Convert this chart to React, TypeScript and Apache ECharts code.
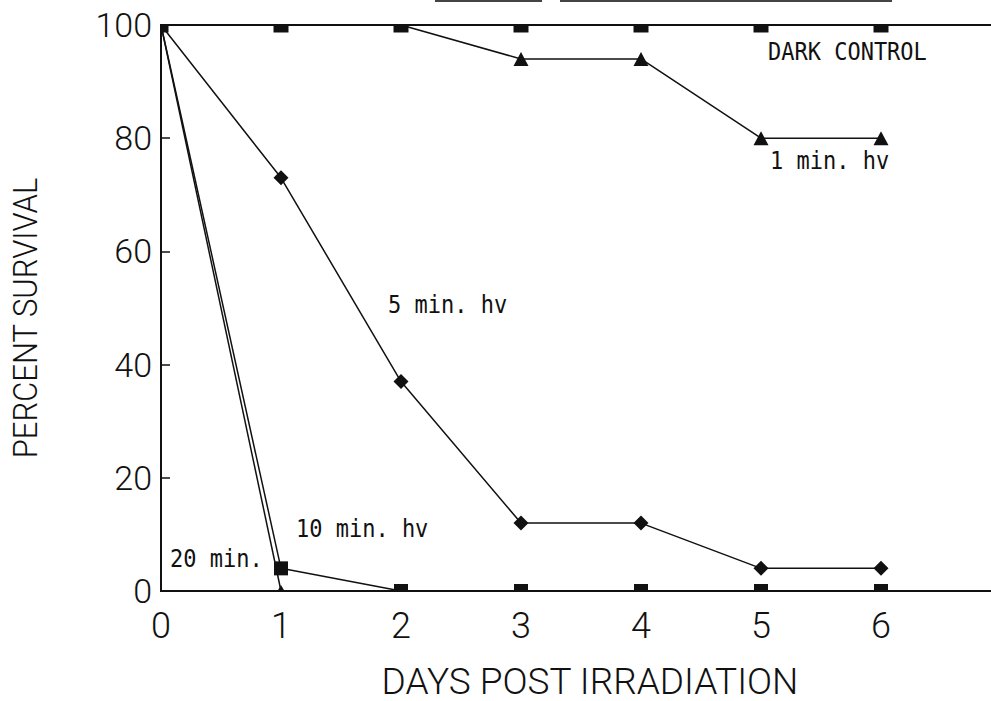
import React, { useEffect, useRef } from "react";
import * as echarts from "echarts";

// Days after irradiation and percent survival for each exposure
const days = [0, 1, 2, 3, 4, 5, 6];
const darkControl = [100, 100, 100, 100, 100, 100, 100];
const oneMinHv = [100, 100, 100, 94, 94, 80, 80];
const fiveMinHv = [100, 73, 37, 12, 12, 4, 4];
const tenMinHv = [100, 4, 0, 0, 0, 0, 0];
const twentyMin = [100, 0];

const xTickLabels = ["0", "1", "2", "3", "4", "5", "6"];
const yTickValues = [0, 20, 40, 60, 80, 100];

const seriesNames = {
  dark: "DARK CONTROL",
  one: "1 min. hv",
  five: "5 min. hv",
  ten: "10 min. hv",
  twenty: "20 min.",
};

const FONT = "Roboto, 'Liberation Sans', sans-serif";
const MONO = "'DejaVu Sans Mono', 'Liberation Mono', monospace";
const INK = "#111";

type Pt = { value: number[]; symbol?: string; symbolSize?: number | number[]; symbolOffset?: number[] };

// Build point items; markers sitting on the frame edge show only their inner half,
// and points hidden under another series' marker are dropped.
function buildPoints(values: number[], size: number, hide: (v: number, i: number) => boolean): Pt[] {
  return values.map((v, i) => {
    const item: Pt = { value: [days[i], v] };
    if (hide(v, i)) {
      item.symbol = "none";
    } else if (v === 100 && i === 0) {
      item.symbolSize = [size / 2, size / 2];
      item.symbolOffset = [size / 4, size / 4];
    } else if (v === 100) {
      item.symbolSize = [size, size / 2];
      item.symbolOffset = [0, size / 4];
    } else if (v === 0) {
      item.symbolSize = [size, size / 2];
      item.symbolOffset = [0, -size / 4];
    }
    return item;
  });
}

export default function App() {
  const ref = useRef<HTMLDivElement>(null);

  useEffect(() => {
    document.body.style.margin = "0";
    if (!ref.current) return;
    const chart = echarts.init(ref.current, null, { renderer: "svg" });

    const lineStyle = { color: INK, width: 1.5 };
    const itemStyle = { color: INK };

    const twentyPts: Pt[] = twentyMin.map((v, i) => {
      const item: Pt = { value: [days[i], v] };
      if (i === 0) item.symbol = "none";
      else {
        item.symbolSize = [7, 6];
        item.symbolOffset = [0, -3];
      }
      return item;
    });

    const labelText = (text: string, x: number, y: number) => ({
      type: "text",
      x,
      y,
      scaleY: 1.1,
      style: { text, fill: INK, font: `22px ${MONO}`, align: "left", verticalAlign: "middle" },
    });

    const option: echarts.EChartsCoreOption = {
      animation: false,
      backgroundColor: "#fff",
      grid: {
        left: 161,
        width: 840,
        top: 25,
        bottom: 110,
        show: true,
        borderColor: INK,
        borderWidth: 2,
        containLabel: false,
        outerBoundsMode: "none",
      },
      xAxis: {
        type: "value",
        min: 0,
        max: 7,
        interval: 1,
        splitLine: { show: false },
        axisLine: { show: true, lineStyle: { color: INK, width: 2 } },
        axisTick: { show: false },
        axisLabel: {
          color: INK,
          fontFamily: FONT,
          fontWeight: 300,
          fontSize: 36,
          margin: 17,
          formatter: (v: number) => xTickLabels[v] ?? "",
        },
      },
      yAxis: {
        type: "value",
        min: 0,
        max: 100,
        interval: 20,
        splitLine: { show: false },
        axisLine: { show: true, lineStyle: { color: INK, width: 2 } },
        axisTick: { show: true, inside: true, length: 9, lineStyle: { color: INK, width: 1.5 } },
        axisLabel: {
          color: INK,
          fontFamily: FONT,
          fontWeight: 300,
          fontSize: 34,
          margin: 9,
          formatter: (v: number) => (yTickValues.includes(v) ? String(v) : ""),
        },
      },
      series: [
        {
          name: seriesNames.dark,
          type: "line",
          symbol: "rect",
          symbolSize: 15,
          data: buildPoints(darkControl, 15, () => false),
          lineStyle,
          itemStyle,
        },
        {
          name: seriesNames.one,
          type: "line",
          symbol: "triangle",
          symbolSize: [15, 14],
          data: buildPoints(oneMinHv, 15, (v) => v === 100),
          lineStyle,
          itemStyle,
        },
        {
          name: seriesNames.five,
          type: "line",
          symbol: "diamond",
          symbolSize: 15,
          data: buildPoints(fiveMinHv, 15, (v) => v === 100),
          lineStyle,
          itemStyle,
        },
        {
          name: seriesNames.ten,
          type: "line",
          symbol: "rect",
          symbolSize: 14,
          data: buildPoints(tenMinHv, 14, (v) => v === 100),
          lineStyle,
          itemStyle,
        },
        {
          name: seriesNames.twenty,
          type: "line",
          symbol: "triangle",
          data: twentyPts,
          lineStyle,
          itemStyle,
        },
      ],
      graphic: [
        // remnants of the underlined heading above the frame
        { type: "line", shape: { x1: 435, y1: 1, x2: 542, y2: 1 }, style: { stroke: "#444", lineWidth: 2 } },
        { type: "line", shape: { x1: 560, y1: 1, x2: 892, y2: 1 }, style: { stroke: "#444", lineWidth: 2 } },
        {
          type: "text",
          x: 590,
          y: 681,
          style: { text: "DAYS POST IRRADIATION", fill: INK, font: `300 37px ${FONT}`, align: "center", verticalAlign: "middle" },
        },
        {
          type: "text",
          x: 25,
          y: 318,
          rotation: Math.PI / 2,
          scaleY: 1.1,
          style: { text: "PERCENT SURVIVAL", fill: INK, font: `300 31px ${FONT}`, align: "center", verticalAlign: "middle" },
        },
        labelText(seriesNames.dark, 768, 52),
        labelText(seriesNames.one, 770, 161),
        labelText(seriesNames.five, 388, 305),
        labelText(seriesNames.ten, 296, 529),
        labelText(seriesNames.twenty, 170, 559),
      ],
    };

    chart.setOption(option);
    return () => chart.dispose();
  }, []);

  return <div ref={ref} style={{ width: 991, height: 701 }} />;
}
